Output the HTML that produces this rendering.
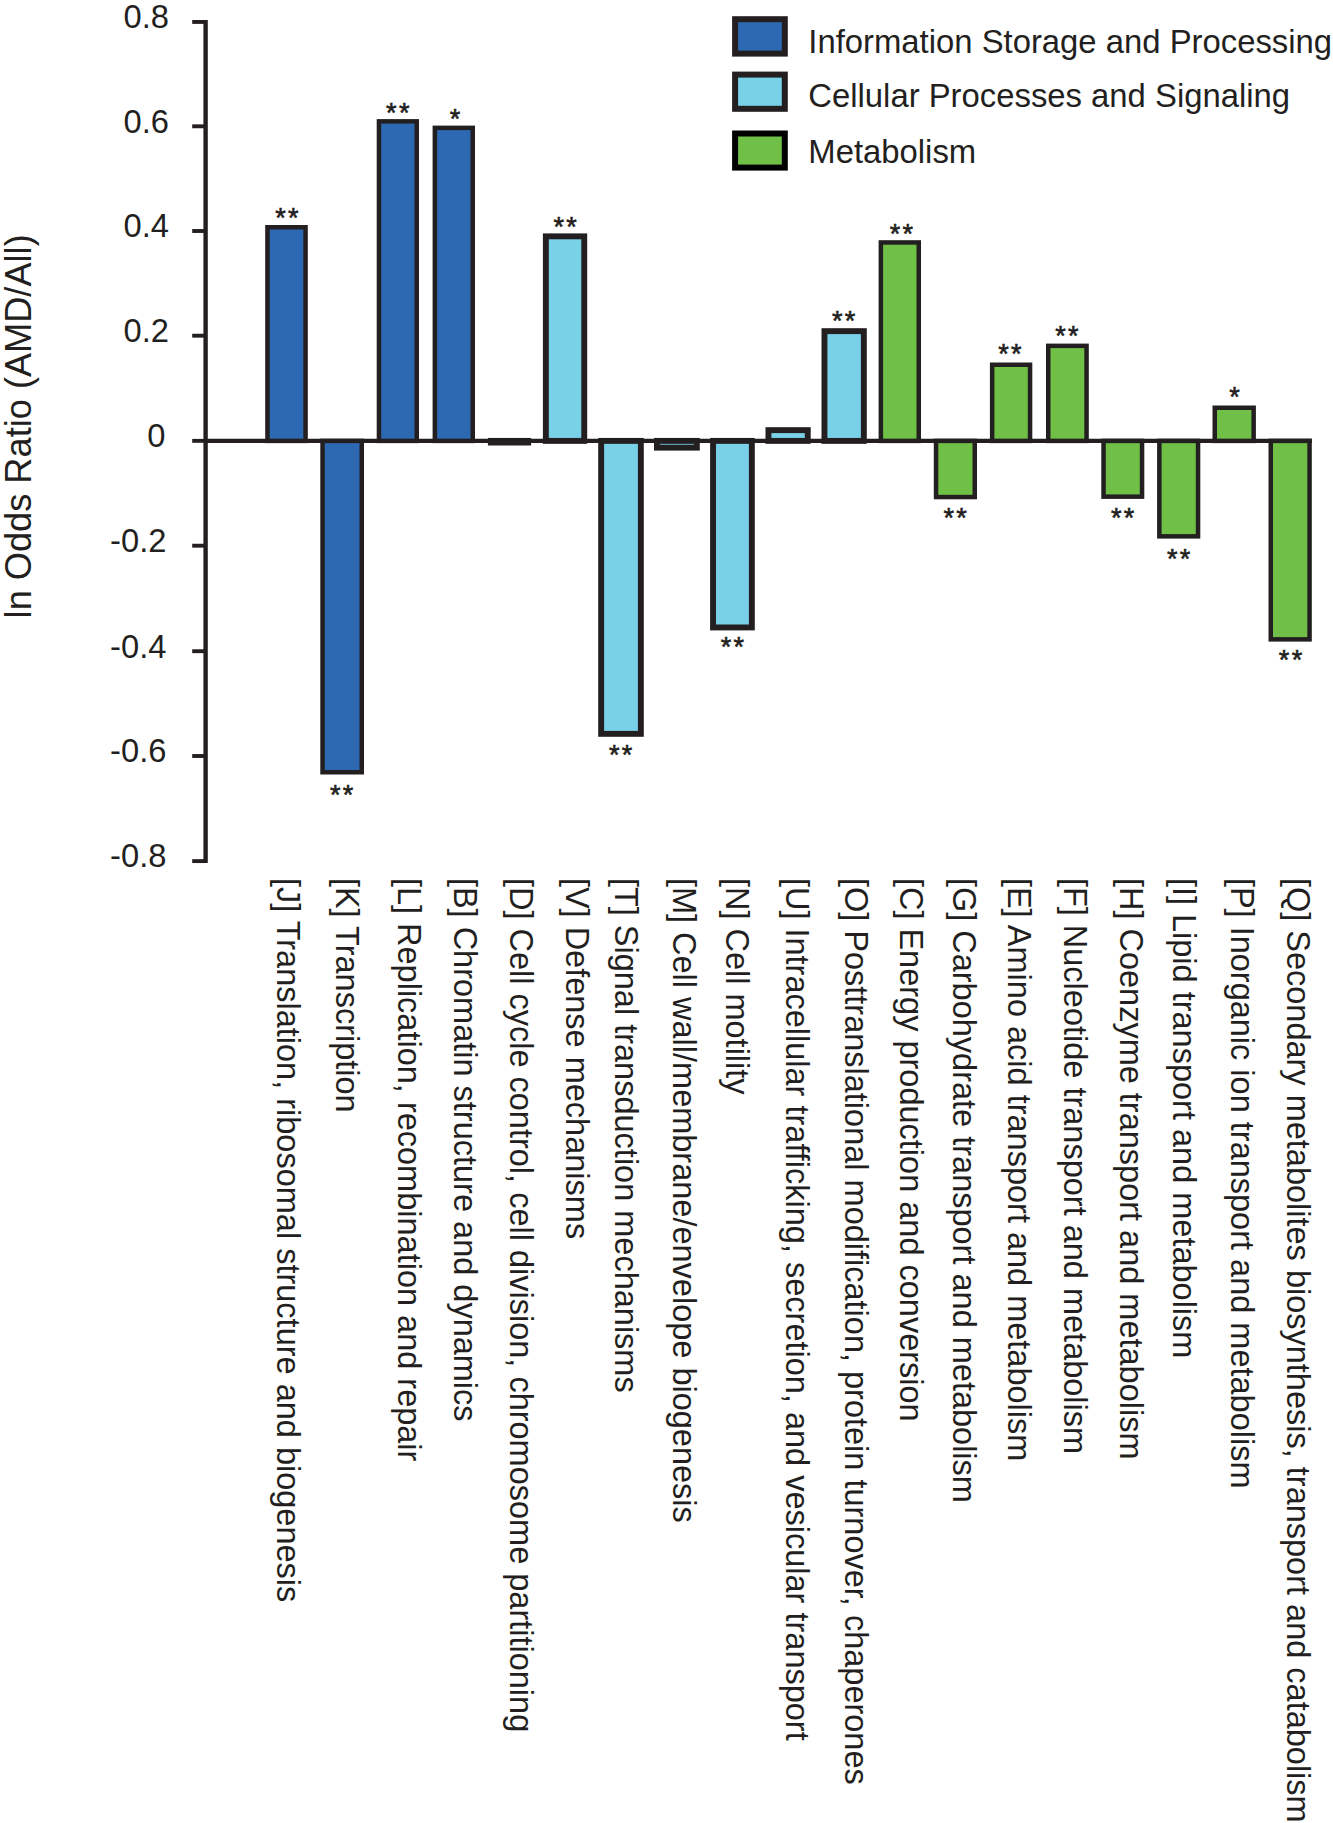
<!DOCTYPE html>
<html><head><meta charset="utf-8"><title>ln Odds Ratio chart</title>
<style>html,body{margin:0;padding:0;background:#fff;}body{width:1333px;height:1823px;overflow:hidden;}svg{display:block;}text{font-family:"Liberation Sans",sans-serif;fill:#231f20;}</style></head><body>
<svg width="1333" height="1823" viewBox="0 0 1333 1823">
<line x1="205.6" y1="19.9" x2="205.6" y2="863.1" stroke="#231f20" stroke-width="4.4"/>
<line x1="192.2" y1="21.95" x2="205.6" y2="21.95" stroke="#231f20" stroke-width="3.9"/>
<line x1="192.2" y1="126.3" x2="205.6" y2="126.3" stroke="#231f20" stroke-width="3.9"/>
<line x1="192.2" y1="231.0" x2="205.6" y2="231.0" stroke="#231f20" stroke-width="3.9"/>
<line x1="192.2" y1="335.7" x2="205.6" y2="335.7" stroke="#231f20" stroke-width="3.9"/>
<line x1="192.2" y1="440.85" x2="205.6" y2="440.85" stroke="#231f20" stroke-width="3.9"/>
<line x1="192.2" y1="545.7" x2="205.6" y2="545.7" stroke="#231f20" stroke-width="3.9"/>
<line x1="192.2" y1="651.2" x2="205.6" y2="651.2" stroke="#231f20" stroke-width="3.9"/>
<line x1="192.2" y1="756.0" x2="205.6" y2="756.0" stroke="#231f20" stroke-width="3.9"/>
<line x1="192.2" y1="861.1" x2="205.6" y2="861.1" stroke="#231f20" stroke-width="3.9"/>
<text x="169.0" y="28.2" font-size="32.7" text-anchor="end">0.8</text>
<text x="169.0" y="132.6" font-size="32.7" text-anchor="end">0.6</text>
<text x="169.0" y="237.3" font-size="32.7" text-anchor="end">0.4</text>
<text x="169.0" y="342.0" font-size="32.7" text-anchor="end">0.2</text>
<text x="165.4" y="447.2" font-size="32.7" text-anchor="end">0</text>
<text x="166.4" y="552.0" font-size="32.7" text-anchor="end">-0.2</text>
<text x="166.4" y="657.5" font-size="32.7" text-anchor="end">-0.4</text>
<text x="166.4" y="762.3" font-size="32.7" text-anchor="end">-0.6</text>
<text x="166.4" y="867.4" font-size="32.7" text-anchor="end">-0.8</text>
<text transform="translate(30.9,618.4) rotate(-90)" font-size="36.2">ln Odds Ratio (AMD/All)</text>
<line x1="205.6" y1="440.9" x2="1311.8" y2="440.9" stroke="#231f20" stroke-width="4.3"/>
<rect x="267.45" y="227.25" width="38.10" height="213.65" fill="#2d69b2" stroke="#231f20" stroke-width="4.5" stroke-linejoin="miter"/>
<rect x="322.55" y="440.90" width="39.20" height="331.35" fill="#2d69b2" stroke="#231f20" stroke-width="4.5" stroke-linejoin="miter"/>
<rect x="378.95" y="121.35" width="37.80" height="319.55" fill="#2d69b2" stroke="#231f20" stroke-width="4.5" stroke-linejoin="miter"/>
<rect x="434.85" y="127.85" width="37.90" height="313.05" fill="#2d69b2" stroke="#231f20" stroke-width="4.5" stroke-linejoin="miter"/>
<rect x="490.85" y="440.90" width="37.30" height="1.65" fill="#79d1e8" stroke="#231f20" stroke-width="5.9" stroke-linejoin="miter"/>
<rect x="545.85" y="236.35" width="38.40" height="204.55" fill="#79d1e8" stroke="#231f20" stroke-width="5.9" stroke-linejoin="miter"/>
<rect x="601.15" y="440.90" width="39.70" height="292.95" fill="#79d1e8" stroke="#231f20" stroke-width="5.9" stroke-linejoin="miter"/>
<rect x="656.95" y="440.90" width="39.90" height="6.75" fill="#79d1e8" stroke="#231f20" stroke-width="5.9" stroke-linejoin="miter"/>
<rect x="713.05" y="440.90" width="38.80" height="186.55" fill="#79d1e8" stroke="#231f20" stroke-width="5.9" stroke-linejoin="miter"/>
<rect x="768.45" y="430.15" width="39.30" height="10.75" fill="#79d1e8" stroke="#231f20" stroke-width="5.9" stroke-linejoin="miter"/>
<rect x="824.45" y="331.15" width="39.40" height="109.75" fill="#79d1e8" stroke="#231f20" stroke-width="5.9" stroke-linejoin="miter"/>
<rect x="880.85" y="242.45" width="37.90" height="198.45" fill="#70c047" stroke="#231f20" stroke-width="4.5" stroke-linejoin="miter"/>
<rect x="936.05" y="440.90" width="38.70" height="56.15" fill="#70c047" stroke="#231f20" stroke-width="4.5" stroke-linejoin="miter"/>
<rect x="992.15" y="364.75" width="37.90" height="76.15" fill="#70c047" stroke="#231f20" stroke-width="4.5" stroke-linejoin="miter"/>
<rect x="1048.25" y="345.85" width="38.30" height="95.05" fill="#70c047" stroke="#231f20" stroke-width="4.5" stroke-linejoin="miter"/>
<rect x="1103.55" y="440.90" width="38.50" height="55.75" fill="#70c047" stroke="#231f20" stroke-width="4.5" stroke-linejoin="miter"/>
<rect x="1159.35" y="440.90" width="38.70" height="95.45" fill="#70c047" stroke="#231f20" stroke-width="4.5" stroke-linejoin="miter"/>
<rect x="1214.75" y="407.75" width="38.90" height="33.15" fill="#70c047" stroke="#231f20" stroke-width="4.5" stroke-linejoin="miter"/>
<rect x="1270.75" y="440.90" width="38.80" height="198.45" fill="#70c047" stroke="#231f20" stroke-width="4.5" stroke-linejoin="miter"/>
<text x="288.00" y="227.10" font-size="27.0" letter-spacing="2.3" text-anchor="middle" stroke="#231f20" stroke-width="0.6">**</text>
<text x="342.85" y="803.78" font-size="27.0" letter-spacing="2.3" text-anchor="middle" stroke="#231f20" stroke-width="0.6">**</text>
<text x="398.90" y="121.60" font-size="27.0" letter-spacing="2.3" text-anchor="middle" stroke="#231f20" stroke-width="0.6">**</text>
<text x="454.95" y="128.20" font-size="27.0" letter-spacing="0" text-anchor="middle" stroke="#231f20" stroke-width="0.6">*</text>
<text x="566.30" y="235.70" font-size="27.0" letter-spacing="2.3" text-anchor="middle" stroke="#231f20" stroke-width="0.6">**</text>
<text x="621.85" y="764.28" font-size="27.0" letter-spacing="2.3" text-anchor="middle" stroke="#231f20" stroke-width="0.6">**</text>
<text x="733.60" y="655.68" font-size="27.0" letter-spacing="2.3" text-anchor="middle" stroke="#231f20" stroke-width="0.6">**</text>
<text x="844.85" y="330.40" font-size="27.0" letter-spacing="2.3" text-anchor="middle" stroke="#231f20" stroke-width="0.6">**</text>
<text x="902.55" y="242.50" font-size="27.0" letter-spacing="2.3" text-anchor="middle" stroke="#231f20" stroke-width="0.6">**</text>
<text x="956.25" y="526.58" font-size="27.0" letter-spacing="2.3" text-anchor="middle" stroke="#231f20" stroke-width="0.6">**</text>
<text x="1011.10" y="363.00" font-size="27.0" letter-spacing="2.3" text-anchor="middle" stroke="#231f20" stroke-width="0.6">**</text>
<text x="1068.10" y="344.50" font-size="27.0" letter-spacing="2.3" text-anchor="middle" stroke="#231f20" stroke-width="0.6">**</text>
<text x="1123.75" y="527.38" font-size="27.0" letter-spacing="2.3" text-anchor="middle" stroke="#231f20" stroke-width="0.6">**</text>
<text x="1179.85" y="568.38" font-size="27.0" letter-spacing="2.3" text-anchor="middle" stroke="#231f20" stroke-width="0.6">**</text>
<text x="1234.45" y="406.00" font-size="27.0" letter-spacing="0" text-anchor="middle" stroke="#231f20" stroke-width="0.6">*</text>
<text x="1291.65" y="668.68" font-size="27.0" letter-spacing="2.3" text-anchor="middle" stroke="#231f20" stroke-width="0.6">**</text>
<text transform="translate(277.1,877.88) rotate(90)" font-size="32.5">[J] Translation, ribosomal structure and biogenesis</text>
<text transform="translate(335.9,877.88) rotate(90)" font-size="32.5">[K] Transcription</text>
<text transform="translate(398.3,877.88) rotate(90)" font-size="32.5">[L] Replication, recombination and repair</text>
<text transform="translate(453.5,877.88) rotate(90)" font-size="32.5">[B] Chromatin structure and dynamics</text>
<text transform="translate(509.7,877.88) rotate(90)" font-size="32.5">[D] Cell cycle control, cell division, chromosome partitioning</text>
<text transform="translate(565.5,877.88) rotate(90)" font-size="32.5">[V] Defense mechanisms</text>
<text transform="translate(614.5,877.88) rotate(90)" font-size="32.5">[T] Signal transduction mechanisms</text>
<text transform="translate(673.0,877.88) rotate(90)" font-size="32.5">[M] Cell wall/membrane/envelope biogenesis</text>
<text transform="translate(726.0,877.88) rotate(90)" font-size="32.5">[N] Cell motility</text>
<text transform="translate(785.5,877.88) rotate(90)" font-size="32.5">[U] Intracellular trafficking, secretion, and vesicular transport</text>
<text transform="translate(844.9,877.88) rotate(90)" font-size="32.5">[O] Posttranslational modification, protein turnover, chaperones</text>
<text transform="translate(900.2,877.88) rotate(90)" font-size="32.5">[C] Energy production and conversion</text>
<text transform="translate(952.5,877.88) rotate(90)" font-size="32.5">[G] Carbohydrate transport and metabolism</text>
<text transform="translate(1008.1,877.88) rotate(90)" font-size="32.5">[E] Amino acid transport and metabolism</text>
<text transform="translate(1063.9,877.88) rotate(90)" font-size="32.5">[F] Nucleotide transport and metabolism</text>
<text transform="translate(1119.8,877.88) rotate(90)" font-size="32.5">[H] Coenzyme transport and metabolism</text>
<text transform="translate(1172.5,877.88) rotate(90)" font-size="32.5">[I] Lipid transport and metabolism</text>
<text transform="translate(1231.1,877.88) rotate(90)" font-size="32.5">[P] Inorganic ion transport and metabolism</text>
<text transform="translate(1287.3,877.88) rotate(90)" font-size="32.5">[Q] Secondary metabolites biosynthesis, transport and catabolism</text>
<rect x="735.1" y="19.2" width="49.7" height="34.4" fill="#2d69b2" stroke="#231f20" stroke-width="6.0"/>
<text x="808.3" y="52.7" font-size="32.85">Information Storage and Processing</text>
<rect x="735.1" y="74.6" width="49.7" height="34.2" fill="#79d1e8" stroke="#231f20" stroke-width="6.0"/>
<text x="808.3" y="106.6" font-size="32.85">Cellular Processes and Signaling</text>
<rect x="735.1" y="133.5" width="49.7" height="34.1" fill="#70c047" stroke="#000" stroke-width="6.0"/>
<text x="808.3" y="163.4" font-size="32.85">Metabolism</text>
</svg></body></html>
